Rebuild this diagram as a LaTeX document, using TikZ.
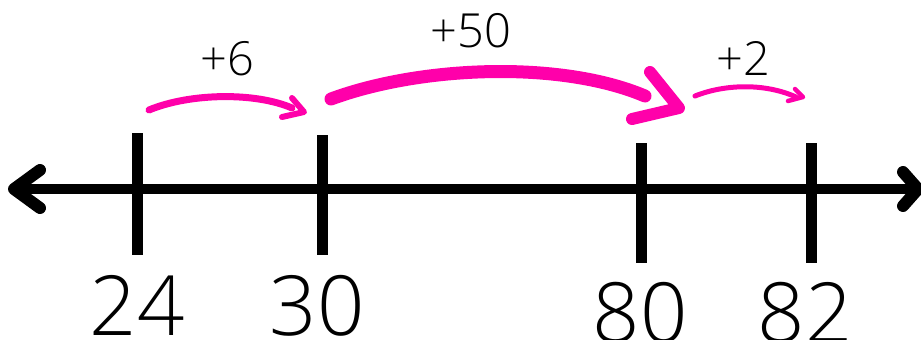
\documentclass[tikz,border=0pt]{standalone}
\usepackage{fontspec}
\setmainfont{Open Sans Light}
\definecolor{jump}{RGB}{255,0,170}
\tikzset{
  px/.style={x=1pt,y=-1pt},
  axisline/.style={line width=10pt,black},
  chevron/.style={line width=12pt,black,line cap=round,line join=round},
  tickmark/.style={line width=11pt,black},
  biglabel/.style={anchor=base,inner sep=0pt,text depth=0pt,font=\fontsize{83}{90}\selectfont},
  jumplabel/.style={anchor=base,inner sep=0pt,text depth=0pt,font=\fontsize{47}{54}\selectfont},
  jumparc/.style={jump,line cap=round,line join=round}
}
\begin{document}
\begin{tikzpicture}[px]
\useasboundingbox (0,0) rectangle (921,340);
% axis
\coordinate (L) at (14,189);
\coordinate (R) at (918,189);
\draw[axisline] (L) -- (R);
\draw[chevron] (40,170) -- (L) -- (40,208);
\draw[chevron] (903,172) -- (R) -- (903,206);
% ticks
\coordinate (t24a) at (137.5,133); \coordinate (t24b) at (137.5,255);
\coordinate (t30a) at (322.5,135); \coordinate (t30b) at (322.5,255);
\coordinate (t80a) at (641,143);   \coordinate (t80b) at (641,263);
\coordinate (t82a) at (811.5,143); \coordinate (t82b) at (811.5,263);
\draw[tickmark] (t24a) -- (t24b);
\draw[tickmark] (t30a) -- (t30b);
\draw[tickmark] (t80a) -- (t80b);
\draw[tickmark] (t82a) -- (t82b);
% labels
\node[biglabel] (n24) at (137,335) {24};
\node[biglabel] (n30) at (317,335) {30};
\node[biglabel] (n80) at (640,342) {80};
\node[biglabel] (n82) at (805,342) {82};
% jumps
\coordinate (a1) at (149,110); \coordinate (b1) at (304,112);
\draw[jumparc,line width=7pt] (a1) .. controls (190,93) and (255,92) .. (292,108);
\draw[jumparc,line width=6pt] (292,98) -- (b1) -- (282,117);
\node[jumplabel] (p6) at (227,75) {+6};

\coordinate (a2) at (331,99); \coordinate (b2) at (679,108);
\draw[jumparc,line width=13pt] (a2) .. controls (420,66) and (560,60) .. (645,96);
\draw[jumparc,line width=12pt] (650,72) -- (b2) -- (632,119);
\node[jumplabel] (p50) at (471,47) {+50};

\coordinate (a3) at (695,96); \coordinate (b3) at (803,97);
\draw[jumparc,line width=5pt] (a3) .. controls (725,84) and (765,83) .. (796,97);
\draw[jumparc,line width=4.5pt] (795,89) -- (b3) -- (788,101);
\node[jumplabel] (p2) at (743,75) {+2};
\end{tikzpicture}
\end{document}
